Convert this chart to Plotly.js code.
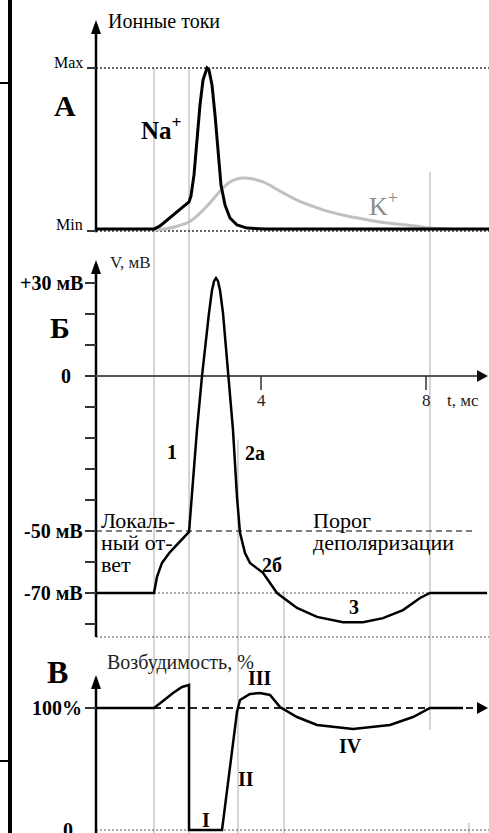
<!DOCTYPE html>
<html>
<head>
<meta charset="utf-8">
<script src="https://cdn.plot.ly/plotly-3.0.1.min.js"></script>
<style>
  html, body { margin: 0; padding: 0; background: #fff; }
  #chart { width: 489px; height: 833px; }
</style>
</head>
<body>
<div id="chart"></div>
<script>
// ---- Data (time in ms) ----
// Ionic currents, normalised: 0 = Min, 1 = Max
const naTime = [0, 1.406, 1.552, 1.721, 1.915, 2.109, 2.255, 2.303, 2.376, 2.448, 2.521, 2.594, 2.667, 2.691, 2.739, 2.812, 2.885, 2.958, 3.030, 3.127, 3.248, 3.418, 3.661, 4.097, 9.53];
const naCurrent = [0.012, 0.012, 0.031, 0.067, 0.110, 0.147, 0.178, 0.215, 0.344, 0.558, 0.773, 0.926, 0.988, 1.0, 0.988, 0.896, 0.712, 0.466, 0.282, 0.160, 0.080, 0.037, 0.018, 0.012, 0.012];

const kTime = [1.406, 1.673, 1.988, 2.255, 2.473, 2.691, 2.885, 3.055, 3.248, 3.418, 3.564, 3.733, 4.048, 4.461, 4.873, 5.309, 5.673, 6.085, 6.473, 6.885, 7.297, 7.733, 8.097, 8.582];
const kCurrent = [0.006, 0.012, 0.031, 0.055, 0.098, 0.153, 0.209, 0.258, 0.301, 0.319, 0.325, 0.322, 0.301, 0.245, 0.190, 0.147, 0.117, 0.092, 0.074, 0.055, 0.043, 0.031, 0.018, 0.012];

// Membrane potential, mV
const apTime = [0, 1.406, 1.479, 1.600, 1.794, 2.036, 2.255, 2.448, 2.570, 2.739, 2.812, 2.861, 2.909, 2.958, 3.006, 3.079, 3.200, 3.321, 3.418, 3.491, 3.612, 3.733, 4.048, 4.388, 4.873, 5.358, 5.988, 6.473, 6.958, 7.442, 7.855, 8.097, 9.48];
const apVoltage = [-70, -70, -64.8, -60.3, -56.8, -53.5, -50.3, -17.4, 0, 20.3, 27.7, 30.6, 31.6, 30.6, 27.7, 20.3, 0, -17.4, -39.0, -50.6, -57.1, -60.3, -63.5, -70, -74.8, -77.7, -79.4, -79.4, -78.1, -75.5, -71.6, -70, -70];

// Excitability, % of resting level
const excTime = [0, 1.406, 1.624, 1.867, 2.085, 2.255, 2.255, 3.055, 3.418, 3.491, 3.733, 3.976, 4.218, 4.461, 4.873, 5.358, 6.230, 7.127, 7.685, 8.097, 8.897];
const excLevel = [100, 100, 105.7, 112.3, 117.2, 118.9, 0, 0, 96.7, 106.6, 111.5, 112.3, 110.7, 100.8, 92.6, 86.1, 82.8, 86.1, 92.6, 100, 100];

// Axis ticks and levels
const voltTicks = [30, 20, 10, 0, -10, -20, -30, -40, -50, -60, -70, -80];
const voltLabelVals = [30, -50, -70];
const voltLabelText = ['+30 мВ', '-50 мВ', '-70 мВ'];
const timeTicks = [4, 8];
const thresholdMV = -50;
const restMV = -70;
const restExc = 100;
// Phase boundaries, ms
const phaseTimes = [1.406, 2.255, 3.442, 4.558, 8.097, 9.04];

// ---- Geometry ----
const W = 489, H = 833;
const X0 = 96;          // pixel of t = 0
const PX_PER_MS = 41.25;
const py = p => 1 - p / H;           // pixel row -> paper y
const px = p => p / W;               // pixel column -> paper x
const tEnd = (W - X0) / PX_PER_MS;
const tTip = (W - 1 - X0) / PX_PER_MS;

const SERIF = "'Liberation Serif', 'Times New Roman', serif";
const INK = '#000';

// Vertical extents of the phase lines (pixel rows)
const phaseSpans = [[68, 833], [68, 833], [440, 833], [590, 833], [172, 730], [823, 833]];

const shapes = [];
function line(x0, y0, x1, y1, yref, color, width, dash, xref) {
  shapes.push({type: 'line', xref: xref || 'x', yref: yref, x0: x0, x1: x1, y0: y0, y1: y1,
    line: {color: color, width: width, dash: dash || 'solid'}, layer: 'below'});
}
function arrowHead(x, y, yref, dir, color) {
  const path = dir === 'up' ? 'M-5,-14L5,-14L0,0Z' : 'M-11,-6L-11,6L0,0Z';
  shapes.push({type: 'path', xref: 'x', yref: yref, xsizemode: 'pixel', ysizemode: 'pixel',
    xanchor: x, yanchor: y, path: path, fillcolor: color || INK, line: {width: 0}});
}

// Phase guide lines
phaseTimes.forEach((t, i) => {
  const s = phaseSpans[i];
  line(t, py(s[0]), t, py(s[1]), 'paper', '#c8c8c8', 1.5, 'solid');
});

// Panel A: Max / Min levels and axis
line(0, 1, tEnd, 1, 'y', '#333', 1.5, '2px,2px');
line(0, 0, tEnd, 0, 'y', '#333', 1.5, '2px,2px');
line(0, -0.008, 0, 1.22, 'y', INK, 2.5);
arrowHead(0, (231 - 20) / 163, 'y', 'up');

// Panel B: threshold, rest, frame and axes
line(0, thresholdMV, (473 - X0) / PX_PER_MS, thresholdMV, 'y2', '#555', 1.5, '6px,4px');
line(phaseTimes[0], restMV, phaseTimes[4], restMV, 'y2', '#555', 1.2, '2px,2px');
line(0, -84.2, tEnd, -84.2, 'y2', '#555', 1.2, '2px,2px');
line(0, -84.2, 0, 33, 'y2', INK, 2.5);
arrowHead(0, (376 - 260) / 3.1, 'y2', 'up');
line(-11 / PX_PER_MS, 0, tTip - 0.2, 0, 'y2', '#555', 2);
arrowHead(tTip, 0, 'y2', 'right', '#111');
timeTicks.forEach(t => line(t, 0, t, -14 / 3.1, 'y2', '#333', 1.5));

// Panel C: zero level, 100% level, axis
line(0, 0, tEnd, 0, 'y3', '#555', 1.2, '2px,2px');
line(phaseTimes[0], restExc, tTip - 0.2, restExc, 'y3', '#222', 2, '7px,5px');
arrowHead(tTip, restExc, 'y3', 'right');
line(0, -3, 0, 120, 'y3', INK, 2.5);
arrowHead(0, (830 - 675) / 1.22, 'y3', 'up');

// Outer left border
shapes.push({type: 'rect', xref: 'paper', yref: 'paper', x0: px(8), x1: px(12), y0: 0, y1: 1,
  fillcolor: INK, line: {width: 0}});
line(0, py(83), px(8), py(83), 'paper', INK, 2, 'solid', 'paper');
line(0, py(761), px(8), py(761), 'paper', INK, 2, 'solid', 'paper');

// ---- Text ----
const annotations = [];
function label(text, x, y, yref, size, opt) {
  opt = opt || {};
  annotations.push({text: text, x: x, y: y, xref: 'x', yref: yref, showarrow: false,
    xanchor: opt.xanchor || 'center', yanchor: 'middle',
    font: {family: SERIF, size: size, color: opt.color || INK}});
}
const tPx = p => (p - X0) / PX_PER_MS;

// Panel A
label('Ионные токи', tPx(106), (231 - 21) / 163, 'y', 20, {xanchor: 'left'});
label('Max', tPx(85), (231 - 62) / 163, 'y', 16, {xanchor: 'right'});
label('Min', tPx(85), (231 - 224) / 163, 'y', 16, {xanchor: 'right'});
label('<b>А</b>', tPx(65), (231 - 105) / 163, 'y', 30);
label('<b>Na<sup>+</sup></b>', tPx(139), (231 - 128) / 163, 'y', 25, {xanchor: 'left'});
label('K<sup>+</sup>', tPx(367), (231 - 204) / 163, 'y', 26, {xanchor: 'left', color: '#8c8c8c'});

// Panel B
label('V, мВ', tPx(108), (376 - 262) / 3.1, 'y2', 17, {xanchor: 'left', color: '#222'});
voltLabelVals.forEach((v, i) => label('<b>' + voltLabelText[i] + '</b>', tPx(85), v, 'y2', 20, {xanchor: 'right'}));
label('<b>0</b>', tPx(66), 0, 'y2', 20);
label('<b>Б</b>', tPx(60), (376 - 327) / 3.1, 'y2', 30);
timeTicks.forEach(t => label(String(t), t, (376 - 400) / 3.1, 'y2', 17, {color: '#222'}));
label('t, мс', tPx(445), (376 - 400) / 3.1, 'y2', 17, {xanchor: 'left', color: '#222'});
label('<b>1</b>', tPx(172), (376 - 452) / 3.1, 'y2', 20);
label('<b>2а</b>', tPx(255), (376 - 453) / 3.1, 'y2', 20);
label('<b>2б</b>', tPx(272), (376 - 565) / 3.1, 'y2', 20);
label('<b>3</b>', tPx(354), (376 - 607) / 3.1, 'y2', 20);
label('Локаль-', tPx(99), (376 - 520) / 3.1, 'y2', 22, {xanchor: 'left'});
label('ный от-', tPx(99), (376 - 542) / 3.1, 'y2', 22, {xanchor: 'left'});
label('вет', tPx(99), (376 - 564) / 3.1, 'y2', 22, {xanchor: 'left'});
label('Порог', tPx(311), (376 - 520) / 3.1, 'y2', 22, {xanchor: 'left'});
label('деполяризации', tPx(311), (376 - 542) / 3.1, 'y2', 22, {xanchor: 'left'});

// Panel C
label('<b>В</b>', tPx(57), (830 - 672) / 1.22, 'y3', 32);
label('Возбудимость, %', tPx(105), (830 - 662) / 1.22, 'y3', 20, {xanchor: 'left', color: '#222'});
label('<b>100%</b>', tPx(84), restExc, 'y3', 20, {xanchor: 'right'});
label('<b>0</b>', tPx(68), 0, 'y3', 20);
label('<b>I</b>', tPx(206), (830 - 820) / 1.22, 'y3', 20);
label('<b>II</b>', tPx(246), (830 - 779) / 1.22, 'y3', 20);
label('<b>III</b>', tPx(260), (830 - 678) / 1.22, 'y3', 20);
label('<b>IV</b>', tPx(350), (830 - 746) / 1.22, 'y3', 20);

// ---- Traces ----
const traces = [
  {x: kTime, y: kCurrent, xaxis: 'x', yaxis: 'y', mode: 'lines',
   line: {color: '#c0c0c0', width: 3, shape: 'spline', smoothing: 1}},
  {x: naTime, y: naCurrent, xaxis: 'x', yaxis: 'y', mode: 'lines',
   line: {color: INK, width: 3}},
  {x: apTime, y: apVoltage, xaxis: 'x', yaxis: 'y2', mode: 'lines',
   line: {color: INK, width: 2.5}},
  {x: excTime, y: excLevel, xaxis: 'x', yaxis: 'y3', mode: 'lines',
   line: {color: INK, width: 2.5}}
];

const yBase = {anchor: 'free', position: px(X0), showgrid: false, zeroline: false, showline: false,
  showticklabels: false, ticks: 'outside', ticklen: 11, tickwidth: 1.5, tickcolor: '#333', fixedrange: true};

const layout = {
  width: W, height: H,
  margin: {l: 0, r: 0, t: 0, b: 0},
  paper_bgcolor: '#fff', plot_bgcolor: 'rgba(0,0,0,0)',
  showlegend: false, hovermode: false,
  font: {family: SERIF},
  xaxis: {domain: [0, 1], range: [-X0 / PX_PER_MS, tEnd], visible: false, fixedrange: true},
  yaxis: Object.assign({}, yBase, {domain: [py(250), 1], range: [(231 - 250) / 163, 231 / 163],
    tickvals: [0, 1], ticklen: 9}),
  yaxis2: Object.assign({}, yBase, {domain: [py(650), py(250)], range: [(376 - 650) / 3.1, (376 - 250) / 3.1],
    tickvals: voltTicks}),
  yaxis3: Object.assign({}, yBase, {domain: [0, py(650)], range: [(830 - 833) / 1.22, (830 - 650) / 1.22],
    tickvals: [restExc]}),
  shapes: shapes,
  annotations: annotations
};

Plotly.newPlot('chart', traces, layout, {displayModeBar: false, staticPlot: true});
</script>
</body>
</html>
